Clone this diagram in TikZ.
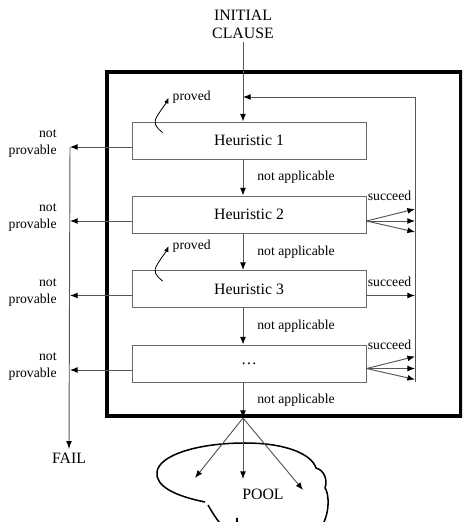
\documentclass[tikz,border=0pt]{standalone}
\usepackage{fontspec}
\setmainfont{Liberation Serif}
\usetikzlibrary{shapes,arrows.meta,positioning,calc}
\definecolor{linegray}{RGB}{85,85,85}
\definecolor{boxgray}{RGB}{105,105,105}

\begin{document}
\begin{tikzpicture}[x=0.03cm, y=-0.03cm,
        heur/.style={rectangle, draw=boxgray, line width=0.8pt, minimum width=7.02cm, minimum height=1.11cm, align=center, font=\fontsize{13.5}{15}\selectfont},
        framebox/.style={rectangle, draw=black, line width=3.4pt, minimum width=10.62cm, minimum height=10.32cm},
        big/.style={align=center, font=\fontsize{13.5}{15.3}\selectfont},
        small/.style={font=\fontsize{11.7}{14.5}\selectfont},
        napp/.style={small, midway, anchor=west, xshift=0.3cm},
        notprov/.style={small, align=right, anchor=east, xshift=-0.27cm, yshift=0.1cm},
        succ/.style={small, anchor=west, inner xsep=1pt},
        arrow/.style={->, draw=linegray, line width=0.8pt, >={Latex[length=6.5pt,width=5pt,color=black]}},
        line/.style={draw=linegray, line width=0.8pt},
        squig/.style={->, line width=0.7pt, >={Latex[length=5pt,width=4pt]}},
        cloudline/.style={draw=black, line width=1.3pt}]

        \useasboundingbox (0,0) rectangle (462,522);
        \clip (0,0) rectangle (462,522);

        % Nodes
        \node[big] (init) at (243,24) {INITIAL\\CLAUSE};
        \node[framebox] (frame) at (284,244) {};

        \node[heur] (h1) at (249,140.5) {Heuristic 1};
        \node[heur] (h2) at (249,214.5) {Heuristic 2};
        \node[heur] (h3) at (249,289) {Heuristic 3};
        \node[heur] (h4) at (249,363.5) {\dots};

        \node[big] (fail) at (69,458) {FAIL};
        \node[big] (pool) at (263,494) {POOL};

        \coordinate (fbtop) at (415,97);
        \coordinate (fbbot) at (415,382);
        \coordinate (failtop) at (70,147);
        \coordinate (spl) at (init |- frame.south);

        % Main flow
        \draw[arrow] (init.south) -- (init.south |- h1.north);
        \draw[arrow] (init |- h1.south) -- node[napp]{not applicable} (init |- h2.north);
        \draw[arrow] (init |- h2.south) -- node[napp]{not applicable} (init |- h3.north);
        \draw[arrow] (init |- h3.south) -- node[napp]{not applicable} (init |- h4.north);
        \draw[arrow] (init |- h4.south) -- node[napp]{not applicable} (spl);

        % Feedback line on the right
        \draw[line] (fbbot) -- (fbtop);
        \draw[arrow] (fbtop) -- (init |- fbtop);

        % Not provable branches
        \draw[line] (failtop) -- (fail.north);
        \draw[arrow] ($(fail.north)+(0,-8)$) -- (fail.north);
        \foreach \h in {h1,h2,h3,h4} {
            \coordinate (\h w) at ($(\h.west)+(0,6.5)$);
            \draw[arrow] (\h w) -- (failtop |- \h w) node[notprov, name=np\h]{not\\provable};
        }

        % Succeed branches
        \coordinate (h2e) at ($(h2.east)+(0,6.5)$);
        \coordinate (h3e) at ($(h3.east)+(0,6.5)$);
        \coordinate (h4e) at ($(h4.east)+(0,5)$);
        \foreach \d in {-12,0,11} {
            \draw[arrow] (h2e) -- ($(fbtop |- h2e)+(0,\d)$);
            \draw[arrow] (h4e) -- ($(fbtop |- h4e)+(0,\d)$);
        }
        \draw[arrow] (h3e) -- (fbtop |- h3e);
        \node[succ] (s2) at (h2.north east) {succeed};
        \node[succ] (s3) at ($(h3.north east)+(0,12)$) {succeed};
        \node[succ] (s4) at (h4.north east) {succeed};

        % Proved
        \foreach \h/\p in {h1/pv1, h3/pv3} {
            \node[small, anchor=west] (\p) at ($(\h.north west)+(37,-24)$) {proved};
            \draw[squig] ($(\h.north west)+(31,11)$) .. controls +(-7,-6) and +(-5,8) .. ($(\h.north west)+(26,-6)$)
                .. controls +(5,-8) and +(-2,5) .. (\p.west);
        }

        % Pool
        \draw[cloudline] (205,502) .. controls (175,496) and (155,486) .. (157,472)
            .. controls (159,455) and (198,443) .. (245,443)
            .. controls (288,443) and (312,455) .. (316,468)
            .. controls (324,470) and (328,480) .. (325,488)
            .. controls (331,496) and (331,535) .. (300,542)
            .. controls (260,548) and (237,535) .. (237,518)
            .. controls (237,526) and (236,532) .. (232,536)
            .. controls (222,528) and (213,514) .. (208,505);
        \coordinate (p1) at (195,478);
        \coordinate (p2) at (243,479);
        \coordinate (p3) at (303,490);
        \foreach \p in {p1,p2,p3}
            \draw[arrow] (spl) -- (\p);

    \end{tikzpicture}
\end{document}
